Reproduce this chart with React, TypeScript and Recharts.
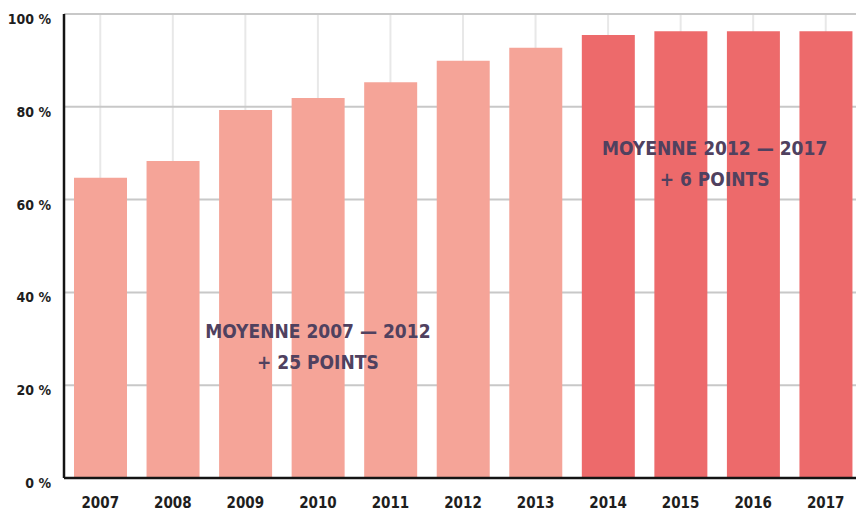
import { BarChart, Bar, Cell, XAxis, YAxis, CartesianGrid, ReferenceDot } from "recharts";

const years = ["2007", "2008", "2009", "2010", "2011", "2012", "2013", "2014", "2015", "2016", "2017"];
const rates = [64.7, 68.3, 79.3, 81.9, 85.3, 89.9, 92.7, 95.5, 96.3, 96.3, 96.3];
const periods = ["old", "old", "old", "old", "old", "old", "old", "new", "new", "new", "new"];
const yTicks = [0, 20, 40, 60, 80, 100];
const noteOld = ["MOYENNE 2007 — 2012", "+ 25 POINTS"];
const noteNew = ["MOYENNE 2012 — 2017", "+ 6 POINTS"];

const data = years.map((year, i) => ({ year, rate: rates[i], period: periods[i] }));

const FONT = '"DejaVu Sans Condensed", "DejaVu Sans", sans-serif';
const LIGHT = "#f5a498";
const DARK = "#ed6a6b";
const INK = "#50415f";

function Note({ viewBox, lines, dx = 0 }: any) {
  const cx = viewBox.x + viewBox.width / 2 + dx;
  const cy = viewBox.y + viewBox.height / 2;
  const common = {
    textAnchor: "middle" as const,
    fill: INK,
    fontFamily: FONT,
    fontWeight: 700,
    fontSize: 19,
  };
  return (
    <g>
      <text x={cx} y={cy - 7} {...common}>{lines[0]}</text>
      <text x={cx} y={cy + 24} {...common}>{lines[1]}</text>
    </g>
  );
}

export default function App() {
  return (
    <div style={{ position: "absolute", left: 0, top: 0, width: 856, height: 512, overflow: "hidden", background: "#fff" }}>
      <BarChart
        width={862}
        height={512}
        data={data}
        margin={{ top: 14, right: 0, bottom: 0, left: 0 }}
      >
        <CartesianGrid horizontal={false} stroke="#e8e8e8" strokeWidth={2} />
        <CartesianGrid vertical={false} stroke="#c8c8c8" strokeWidth={2} />
        <XAxis
          dataKey="year"
          height={34}
          tickLine={false}
          tickSize={0}
          tickMargin={19}
          axisLine={{ stroke: "#141414", strokeWidth: 2.5 }}
          tick={{ fill: "#1e1e1e", fontSize: 15, fontWeight: 700, fontFamily: FONT }}
        />
        <YAxis
          width={64}
          domain={[0, 100]}
          ticks={yTicks}
          interval={0}
          tickLine={false}
          tickSize={0}
          tickMargin={13}
          axisLine={{ stroke: "#141414", strokeWidth: 2.5 }}
          tickFormatter={(v) => `${v} %`}
          tick={{ fill: "#1e1e1e", fontSize: 14, fontWeight: 700, fontFamily: FONT, dy: 5 }}
        />
        <Bar dataKey="rate" barSize={53} isAnimationActive={false}>
          {data.map((d) => (
            <Cell key={d.year} fill={d.period === "new" ? DARK : LIGHT} />
          ))}
        </Bar>
        <ReferenceDot
          x="2010"
          y={28.7}
          r={1}
          fill="none"
          stroke="none"
          label={(p: any) => <Note {...p} lines={noteOld} />}
        />
        <ReferenceDot
          x="2015"
          y={68.2}
          r={1}
          fill="none"
          stroke="none"
          label={(p: any) => <Note {...p} lines={noteNew} dx={34} />}
        />
      </BarChart>
    </div>
  );
}
